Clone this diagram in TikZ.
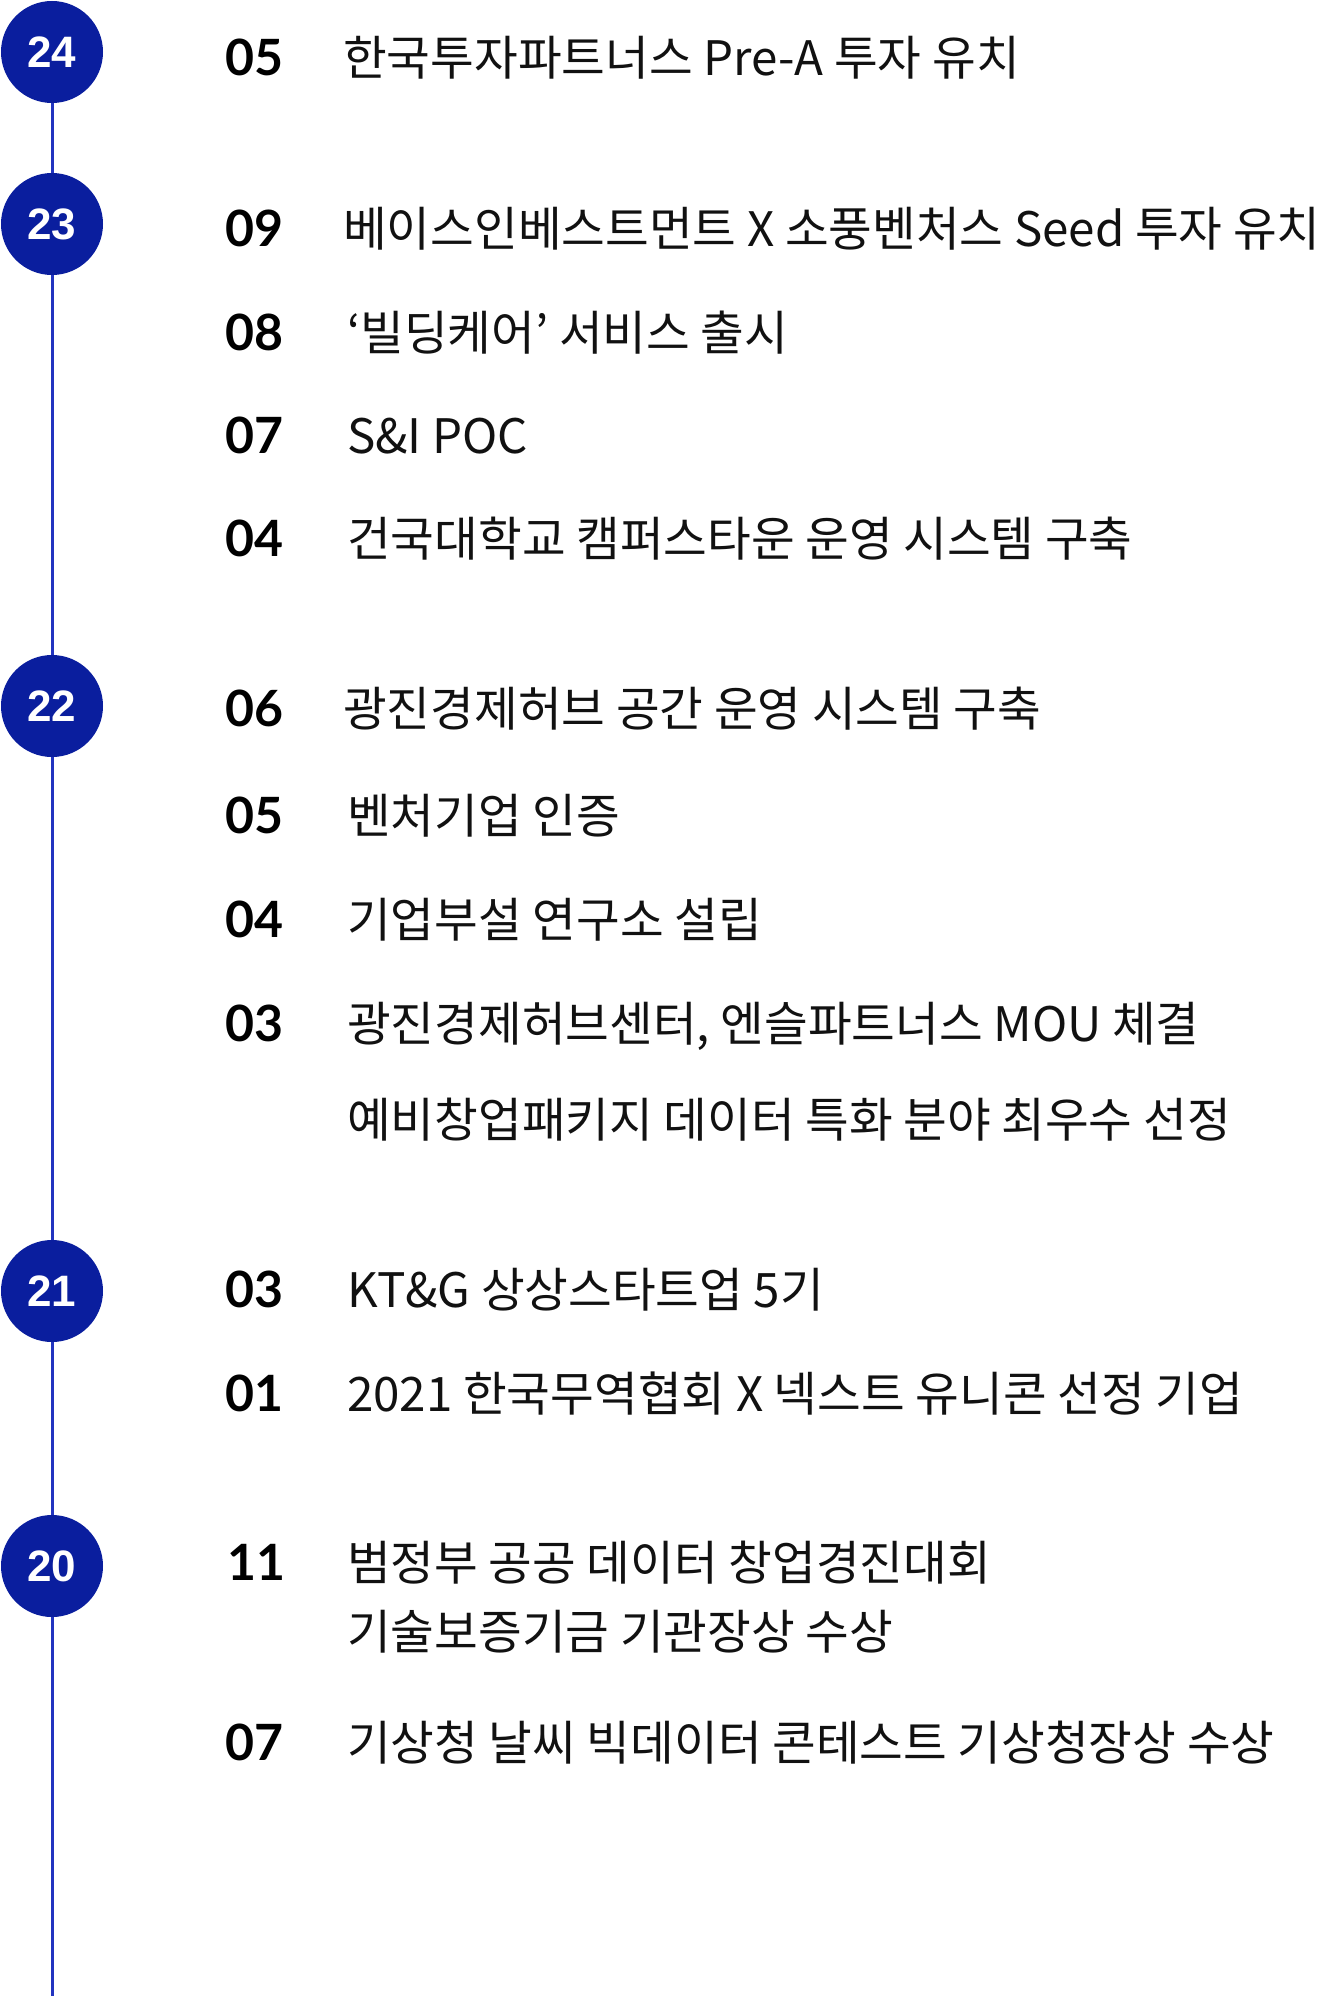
\documentclass[tikz,border=0pt]{standalone}
\usepackage{fontspec}
\setmainfont{Noto Sans CJK KR}
\newfontfamily\monthfont{Lato}
\newfontfamily\yearfont{Liberation Sans}
\definecolor{navy}{HTML}{0A1E9E}
\definecolor{tline}{HTML}{2234C0}
\definecolor{ink}{HTML}{111111}
\begin{document}
\begin{tikzpicture}[x=1pt,y=-1pt,
  yearc/.style={circle,fill=navy,minimum size=102pt,inner sep=0pt,text=white,font=\yearfont\bfseries\fontsize{44}{44}\selectfont},
  tl/.style={draw=tline,line width=3pt},
  mon/.style={anchor=base west,inner sep=0pt,text=black,font=\monthfont\bfseries\fontsize{50}{50}\selectfont},
  evt/.style={anchor=base west,inner sep=0pt,text=ink,font=\fontsize{47.5}{47.5}\selectfont}]
\useasboundingbox[fill=white] (0,0) rectangle (1321,1996);
% circles
\node[yearc] (y24) at (52,52) {24};
\node[yearc] (y23) at (52,224) {23};
\node[yearc] (y22) at (52,706) {22};
\node[yearc] (y21) at (52,1291) {21};
\node[yearc] (y20) at (52,1566) {20};
\coordinate (bot) at (52,1996);
\draw[tl] (y24) -- (y23);
\draw[tl] (y23) -- (y22);
\draw[tl] (y22) -- (y21);
\draw[tl] (y21) -- (y20);
\draw[tl] (y20) -- (bot);
% 2024
\node[mon] (m1) at (225,76) {05};
\node[evt] (e1) at (343,76) {한국투자파트너스 Pre-A 투자 유치};
% 2023
\node[mon] (m2) at (225,246) {09};
\node[evt] (e2) at (343,246) {베이스인베스트먼트 X 소풍벤처스 Seed 투자 유치};
\node[mon] (m3) at (225,350) {08};
\node[evt] (e3) at (347,350) {‘빌딩케어’ 서비스 출시};
\node[mon] (m4) at (225,453) {07};
\node[evt] (e4) at (347,453) {S\&I POC};
\node[mon] (m5) at (225,556) {04};
\node[evt] (e5) at (347,556) {건국대학교 캠퍼스타운 운영 시스템 구축};
% 2022
\node[mon] (m6) at (225,726) {06};
\node[evt] (e6) at (343,726) {광진경제허브 공간 운영 시스템 구축};
\node[mon] (m7) at (225,833) {05};
\node[evt] (e7) at (347,833) {벤처기업 인증};
\node[mon] (m8) at (225,937) {04};
\node[evt] (e8) at (347,937) {기업부설 연구소 설립};
\node[mon] (m9) at (225,1041) {03};
\node[evt] (e9) at (347,1041) {광진경제허브센터, 엔슬파트너스 MOU 체결};
\node[evt] (e10) at (347,1137) {예비창업패키지 데이터 특화 분야 최우수 선정};
% 2021
\node[mon] (m11) at (225,1307) {03};
\node[evt] (e11) at (347,1307) {KT\&G 상상스타트업 5기};
\node[mon] (m12) at (225,1411) {01};
\node[evt] (e12) at (347,1411) {2021 한국무역협회 X 넥스트 유니콘 선정 기업};
% 2020
\node[mon] (m13) at (227,1580) {11};
\node[evt] (e13) at (347,1580) {범정부 공공 데이터 창업경진대회};
\node[evt] (e14) at (347,1649) {기술보증기금 기관장상 수상};
\node[mon] (m15) at (225,1760) {07};
\node[evt] (e15) at (347,1760) {기상청 날씨 빅데이터 콘테스트 기상청장상 수상};
\end{tikzpicture}
\end{document}
